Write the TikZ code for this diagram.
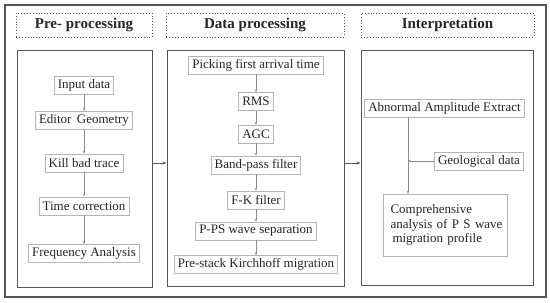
\documentclass[tikz,border=0pt]{standalone}
\usepackage{fontspec}
\setmainfont{Liberation Serif}
\usetikzlibrary{arrows.meta}
\definecolor{boxgray}{HTML}{B4B4B4}
\definecolor{linegray}{HTML}{8C8C8C}
\definecolor{panelgray}{HTML}{555555}
\begin{document}
\begin{tikzpicture}[x=1pt,y=-1pt,
  stepbox/.style={draw=boxgray,line width=0.7pt,inner xsep=3.5pt,inner ysep=1pt,minimum height=18pt,
    font=\fontsize{13}{15}\selectfont,text=black!85},
  panel/.style={draw=panelgray,line width=0.9pt,inner sep=0pt},
  header/.style={draw=panelgray,dotted,line width=0.9pt,inner sep=0pt,minimum height=24pt,
    font=\bfseries\fontsize{15}{17}\selectfont,text=black!85},
  conn/.style={draw=linegray,line width=0.6pt,-{Stealth[length=3pt,width=2.5pt]}},
  pconn/.style={draw=panelgray,line width=0.8pt,-{Stealth[length=4pt,width=3pt]}}
]
\useasboundingbox (0,0) rectangle (550,303);
\fill[white] (0,0) rectangle (550,303);
\draw[panelgray,line width=1.1pt] (5,5) rectangle (546,297);

% headers
\node[header,minimum width=136pt] (h1) at (84,25) {Pre- processing};
\node[header,minimum width=178pt] (h2) at (255,25) {Data processing};
\node[header,minimum width=173pt] (h3) at (447.5,25) {Interpretation};

% panels
\node[panel,minimum width=135pt,minimum height=237pt] (p1) at (84.5,168.5) {};
\node[panel,minimum width=177pt,minimum height=236pt] (p2) at (255.5,168) {};
\node[panel,minimum width=172pt,minimum height=235pt] (p3) at (447,167.5) {};

% pre-processing
\node[stepbox] (in) at (84,85) {Input data};
\node[stepbox] (eg) at (84,120.5) {Editor\, Geometry};
\node[stepbox] (kb) at (84,163) {Kill bad trace};
\node[stepbox] (tc) at (84,206) {Time correction};
\node[stepbox] (fa) at (84,253.5) {Frequency Analysis};
\draw[conn] (in) -- (eg);
\draw[conn] (eg) -- (kb);
\draw[conn] (kb) -- (tc);
\draw[conn] (tc) -- (fa);

% data processing
\node[stepbox] (pf) at (256,65) {Picking first arrival time};
\node[stepbox] (rms) at (256,101.5) {RMS};
\node[stepbox] (agc) at (256,134) {AGC};
\node[stepbox] (bp) at (256,165) {Band-pass filter};
\node[stepbox] (fk) at (256,200) {F-K filter};
\node[stepbox] (pps) at (256,231) {P-PS wave separation};
\node[stepbox] (psk) at (256,264.5) {Pre-stack Kirchhoff migration};
\draw[conn] (pf) -- (rms);
\draw[conn] (rms) -- (agc);
\draw[conn] (agc) -- (bp);
\draw[conn] (bp) -- (fk);
\draw[conn] (fk) -- (pps);
\draw[conn] (pps) -- (psk);

% interpretation
\node[stepbox] (aae) at (444.5,108) {Abnormal Amplitude Extract};
\node[stepbox] (geo) at (479,161) {Geological data};
\node[stepbox,minimum width=124pt,minimum height=62pt,text width=115pt,inner xsep=4.5pt,align=left,
  font=\fontsize{13}{14.5}\selectfont] (comp) at (445,225)
  {\hspace*{3pt}Comprehensive\\\hspace*{3pt}analysis of P S wave\\\hspace*{5pt}migration profile};
\coordinate (vx) at (408,0);
\draw[conn] (aae.south -| vx) -- (comp.north -| vx);
\draw[conn] (geo.west) -- (geo.west -| vx);

% panel connectors
\draw[pconn] (p1.east |- kb) -- (p2.west |- kb);
\draw[pconn] (p2.east |- kb) -- (p3.west |- kb);
\end{tikzpicture}
\end{document}
